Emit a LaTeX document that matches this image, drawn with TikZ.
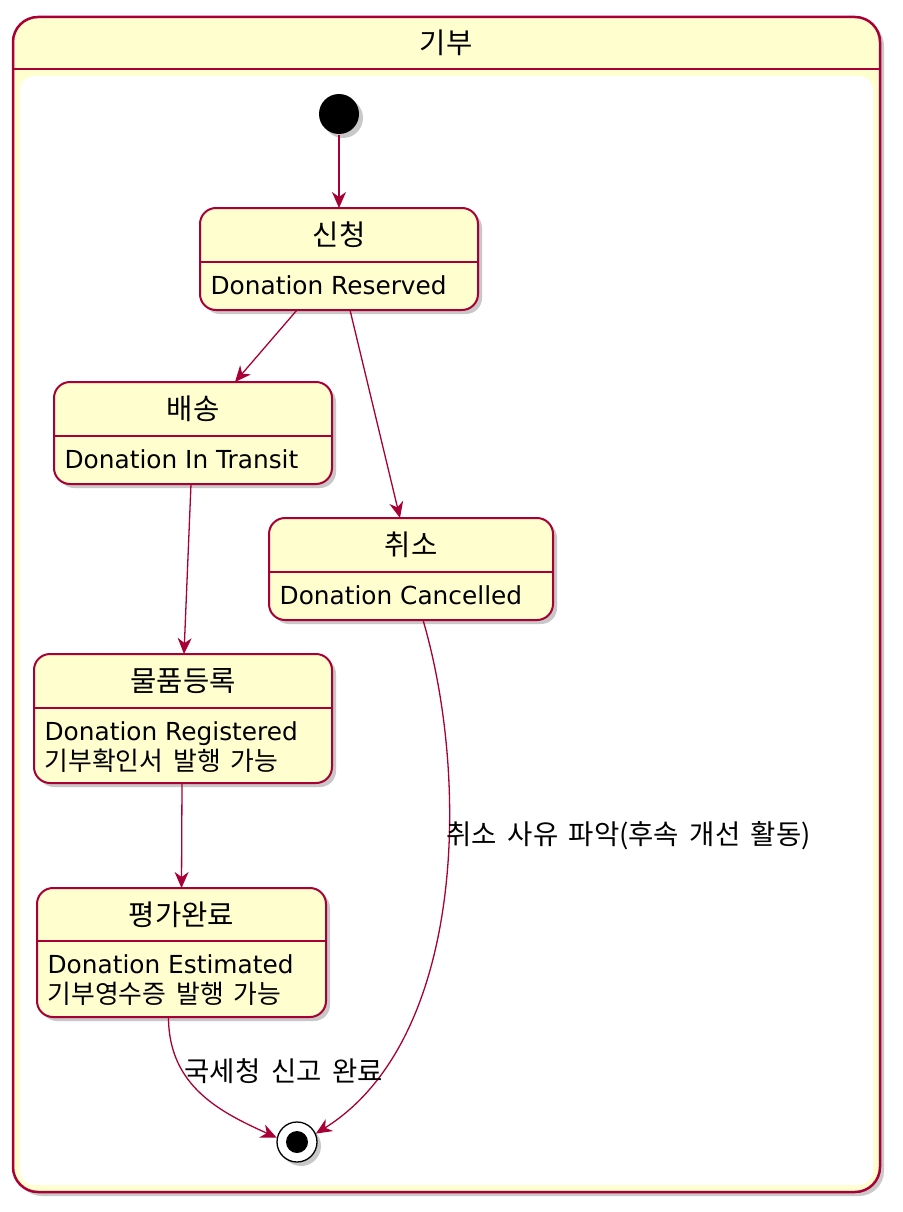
\documentclass[tikz,border=0pt]{standalone}
\usepackage{fontspec}
\setmainfont{DejaVu Sans}
\newfontfamily\kr{Noto Sans CJK KR}[Scale=1.1,WordSpace=1.7]
\newcommand\krsmall{\kr\fontsize{23.5}{29}\selectfont}
\usepackage{tikz}
\usetikzlibrary{arrows.meta,shadows}
\definecolor{umlred}{HTML}{A80036}
\definecolor{umlfill}{HTML}{FEFECE}

\begin{document}
\begin{tikzpicture}[x=1pt,y=-1pt,line width=1.3pt,umlred,
  shadowed/.style={drop shadow={shadow xshift=4pt,shadow yshift=-4pt,opacity=.3,fill=black!70}},
  stbox/.style={draw=umlred,line width=2pt,fill=umlfill,rounded corners=16pt,inner sep=0pt,outer sep=0pt,shadowed},
  sttitle/.style={text=black,inner sep=0pt,font={\kr\fontsize{26}{31}\selectfont}},
  stbody/.style={text=black,inner sep=0pt,anchor=base west,font={\fontsize{24.8}{29}\selectfont}},
  lbl/.style={text=black,inner sep=0pt,anchor=west,font={\kr\fontsize{25}{30}\selectfont}},
  tr/.style={->,>={Stealth[length=16pt,width=14pt,inset=5pt]}}]
  \useasboundingbox (0,0) rectangle (902,1212);
%  composite state
  \node[stbox,line width=2.5pt,rounded corners=25pt,minimum width=867pt,minimum height=1175pt] (frame) at (446.5,604.5) {};
  \draw[line width=2.5pt] (frame.west |- 0,69) -- (frame.east |- 0,69);
  \node[fill=white,rounded corners=14pt,inner sep=0pt,minimum width=853pt,minimum height=1109pt] (inner) at (446.5,630.5) {};
  \node[sttitle] (frame-t) at (446,43) {기부};

  \node[circle,fill=black,minimum size=40pt,inner sep=0pt,shadowed] (start) at (339,114) {};
  \node[circle,draw=black,line width=1.3pt,fill=white,minimum size=40pt,inner sep=0pt,shadowed] (stop) at (297,1142) {};
  \node[circle,fill=black,minimum size=22pt,inner sep=0pt] (stop-c) at (stop) {};

  \foreach \n/\xa/\ya/\xb/\yb/\yd/\ti/\bo in {
	sin/200/208/478/310/262/신청/{Donation Reserved},
	bae/54/382/332/484/436/배송/{Donation In Transit},
	chwi/269/518/553/620/572/취소/{Donation Cancelled},
	mul/34/654/332/783/708/물품등록/{Donation Registered\\{\krsmall 기부확인서 발행 가능}},
	pyeong/37/888/326/1017/941/평가완료/{Donation Estimated\\{\krsmall 기부영수증 발행 가능}}}{
	\node[stbox,minimum width={(\xb-\xa)*1pt},minimum height={(\yb-\ya)*1pt}] (\n) at ({(\xa+\xb)/2},{(\ya+\yb)/2}) {};
	\draw[line width=2pt] (\xa,\yd) -- (\xb,\yd);
	\node[sttitle] (\n-t) at ({(\xa+\xb)/2},{(\ya+\yd)/2}) {\ti};
	\node[stbody] (\n-b) at (\xa+10,\yd+32) {\begin{tabular}[t]{@{}l@{}}\bo\end{tabular}};
  }

  \path[tr]
	(start) edge (sin)
	([xshift=-42pt]sin.south) edge ([xshift=42pt]bae.north)
	([xshift=11pt]sin.south) edge ([xshift=-11pt]chwi.north)
	([xshift=-2pt]bae.south) edge ([xshift=1pt]mul.north)
	([xshift=-1pt]mul.south) edge (pyeong.north)
  ;
  \draw[tr] ([xshift=-13pt]pyeong.south) .. controls +(0,70) and +(-55,-25) .. (stop.168);
  \draw[tr] ([xshift=12pt]chwi.south) .. controls (470,780) and (465,1040) .. (stop.24);

  \node[lbl] (l-tax) at (184,1071) {국세청 신고 완료};
  \node[lbl] (l-cancel) at (446,836) {취소 사유 파악(후속 개선 활동)};
\end{tikzpicture}
\end{document}
